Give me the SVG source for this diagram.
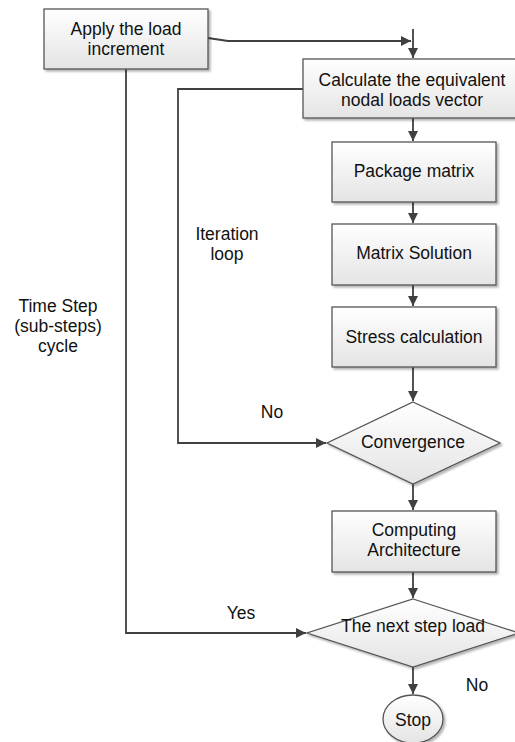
<svg xmlns="http://www.w3.org/2000/svg" width="515" height="742" viewBox="0 0 515 742">
<defs>
<linearGradient id="g" x1="0" y1="0" x2="0" y2="1"><stop offset="0" stop-color="#ffffff"/><stop offset="1" stop-color="#e4e4e4"/></linearGradient>
<filter id="sh" x="-10%" y="-10%" width="130%" height="130%"><feDropShadow dx="2" dy="2" stdDeviation="1.2" flood-color="#000" flood-opacity="0.3"/></filter>
<marker id="ah" viewBox="0 0 10 10" refX="10" refY="5" markerWidth="10" markerHeight="10" markerUnits="userSpaceOnUse" orient="auto"><path d="M0,0 L10,5 L0,10 z" fill="#404040"/></marker>
</defs>
<style>
.n{fill:url(#g);stroke:#555;stroke-width:1.3;filter:url(#sh)}
.t{font-family:"Liberation Sans",Arial,sans-serif;font-size:17.5px;fill:#111;text-anchor:middle}
.c{fill:none;stroke:#404040;stroke-width:1.8}
</style>
<rect width="515" height="742" fill="#fff"/>
<g id="connectors">
<path class="c" d="M208,38 L228,41 L411,41" marker-end="url(#ah)"/>
<path class="c" d="M413,29 L413,58" marker-end="url(#ah)"/>
<path class="c" d="M303,89 L178,89 L178,443 L326,443" marker-end="url(#ah)"/>
<path class="c" d="M413,118 L413,141" marker-end="url(#ah)"/>
<path class="c" d="M413,202 L413,223" marker-end="url(#ah)"/>
<path class="c" d="M413,285 L413,306" marker-end="url(#ah)"/>
<path class="c" d="M413,367 L413,401" marker-end="url(#ah)"/>
<path class="c" d="M413,484 L413,510" marker-end="url(#ah)"/>
<path class="c" d="M413,572 L413,598" marker-end="url(#ah)"/>
<path class="c" d="M126,69 L126,633 L306,633" marker-end="url(#ah)"/>
<path class="c" d="M413,667 L413,694" marker-end="url(#ah)"/>
</g>
<g id="apply"><rect class="n" x="44" y="9" width="164" height="60"/><text class="t" x="126" y="35">Apply the load</text><text class="t" x="126" y="55">increment</text></g>
<g id="calc"><rect class="n" x="303" y="59" width="218" height="59"/><text class="t" x="412" y="86">Calculate the equivalent</text><text class="t" x="412" y="106">nodal loads vector</text></g>
<g id="package"><rect class="n" x="332" y="142" width="164" height="60"/><text class="t" x="414" y="177">Package matrix</text></g>
<g id="solution"><rect class="n" x="332" y="224" width="164" height="61"/><text class="t" x="414" y="259">Matrix Solution</text></g>
<g id="stress"><rect class="n" x="332" y="307" width="164" height="60"/><text class="t" x="414" y="343">Stress calculation</text></g>
<g id="convergence"><polygon class="n" points="413,402 500,443 413,484 327,443"/><text class="t" x="413" y="448">Convergence</text></g>
<g id="computing"><rect class="n" x="332" y="511" width="164" height="61"/><text class="t" x="414" y="536">Computing</text><text class="t" x="414" y="556">Architecture</text></g>
<g id="nextstep"><polygon class="n" points="413,599 519,633 413,667 307,633"/><text class="t" x="413" y="632">The next step load</text></g>
<g id="stop"><ellipse class="n" cx="413" cy="719" rx="30" ry="24"/><text class="t" x="413" y="726">Stop</text></g>
<g id="labels">
<text class="t" x="227" y="240">Iteration</text><text class="t" x="227" y="260">loop</text>
<text class="t" x="58" y="312">Time Step</text><text class="t" x="58" y="332">(sub-steps)</text><text class="t" x="58" y="352">cycle</text>
<text class="t" x="272" y="418">No</text>
<text class="t" x="241" y="619">Yes</text>
<text class="t" x="477" y="691">No</text>
</g>
</svg>
